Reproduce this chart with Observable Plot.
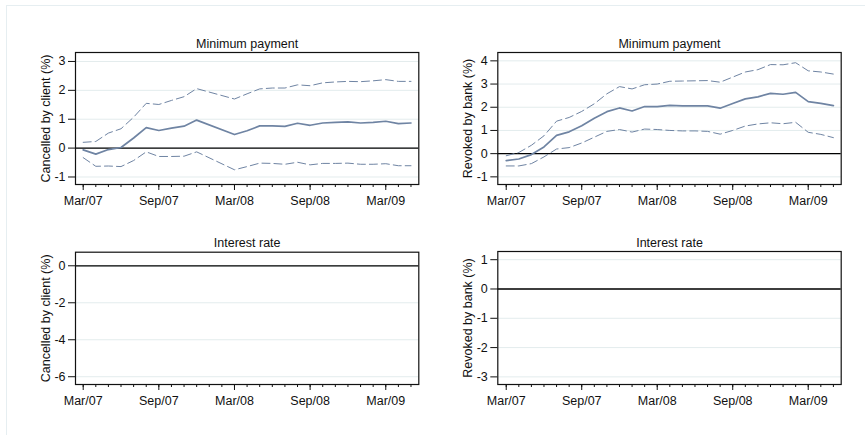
<!DOCTYPE html>
<html>
<head>
<meta charset="utf-8">
<script src="https://cdn.jsdelivr.net/npm/d3@7"></script>
<script src="https://cdn.jsdelivr.net/npm/@observablehq/plot@0.6"></script>
<style>
  html, body { margin: 0; padding: 0; background: #fff; }
  #wrap { position: relative; width: 865px; height: 435px; overflow: hidden; background: #fff; }
  #outline { position: absolute; left: 6px; top: 5px; width: 900px; height: 500px; border-left: 1px solid #e6eef1; border-top: 1px solid #e6eef1; }
  .panel { position: absolute; }
</style>
</head>
<body>
<div id="wrap"><div id="outline"></div></div>
<script>
// Month labels (monthly, Mar/07 .. May/09)
const months = ["Mar/07","Apr/07","May/07","Jun/07","Jul/07","Aug/07","Sep/07","Oct/07","Nov/07","Dec/07",
  "Jan/08","Feb/08","Mar/08","Apr/08","May/08","Jun/08","Jul/08","Aug/08","Sep/08","Oct/08","Nov/08","Dec/08",
  "Jan/09","Feb/09","Mar/09","Apr/09","May/09"];
const xTickLabels = ["Mar/07","Sep/07","Mar/08","Sep/08","Mar/09"];

// Top-left: Minimum payment, cancelled by client (%)
const clientMinPoint = [-0.06,-0.21,-0.05,0.02,0.35,0.71,0.61,0.69,0.76,0.97,null,null,0.47,0.60,0.77,0.77,0.75,0.86,0.79,0.87,0.89,0.91,0.87,0.89,0.93,0.85,0.87];
const clientMinUpper = [0.20,0.23,0.52,0.67,1.07,1.55,1.51,1.65,1.78,2.06,null,null,1.70,1.88,2.05,2.08,2.08,2.19,2.16,2.26,2.29,2.31,2.30,2.33,2.37,2.31,2.31];
const clientMinLower = [-0.33,-0.63,-0.62,-0.64,-0.43,-0.13,-0.29,-0.29,-0.28,-0.13,null,null,-0.75,-0.64,-0.52,-0.53,-0.56,-0.49,-0.58,-0.53,-0.53,-0.52,-0.56,-0.56,-0.54,-0.61,-0.61];

// Top-right: Minimum payment, revoked by bank (%)
const bankMinPoint = [-0.30,-0.23,-0.04,0.29,0.79,0.94,1.20,1.53,1.81,1.97,1.84,2.03,2.03,2.08,2.06,2.06,2.06,1.96,2.16,2.36,2.45,2.60,2.56,2.64,2.24,2.17,2.07];
const bankMinUpper = [-0.09,0.05,0.36,0.77,1.40,1.56,1.82,2.15,2.58,2.89,2.79,2.97,3.00,3.12,3.13,3.14,3.15,3.08,3.30,3.52,3.62,3.84,3.83,3.92,3.57,3.52,3.43];
const bankMinLower = [-0.53,-0.53,-0.43,-0.14,0.20,0.26,0.46,0.71,0.96,1.04,0.93,1.06,1.04,1.00,0.98,0.98,0.96,0.84,1.00,1.19,1.28,1.33,1.29,1.35,0.92,0.83,0.69];

// Y tick values
const yTicksClientMin = [-1,0,1,2,3];
const yTicksBankMin = [-1,0,1,2,3,4];
const yTicksClientRate = [-6,-4,-2,0];
const yTicksBankRate = [-3,-2,-1,0,1];

const LINE = "#6f84a3";
const GRID = "#e3eced";
const FS = 12.5;

function rows(values) {
  return values.map((v, i) => ({m: i, v})).filter(d => d.v != null);
}

function panel(opts) {
  const div = document.createElement("div");
  div.className = "panel";
  div.style.left = opts.left + "px";
  div.style.top = opts.top + "px";
  const majors = xTickLabels.map(l => months.indexOf(l));
  const minors = months.map((_, i) => i);
  const marks = [
    Plot.gridY(opts.yTicks, {stroke: GRID, strokeOpacity: 1, strokeWidth: 1}),
    Plot.ruleY([0], {stroke: "#000", strokeWidth: 1.3}),
  ];
  if (opts.series) {
    const [pt, up, lo] = opts.series;
    marks.push(Plot.lineY(rows(up), {x: "m", y: "v", stroke: LINE, strokeWidth: 1, strokeDasharray: "8,4"}));
    marks.push(Plot.lineY(rows(lo), {x: "m", y: "v", stroke: LINE, strokeWidth: 1, strokeDasharray: "8,4"}));
    marks.push(Plot.lineY(rows(pt), {x: "m", y: "v", stroke: LINE, strokeWidth: 1.7}));
  }
  marks.push(
    Plot.frame({stroke: "#111", strokeWidth: 1.2}),
    Plot.axisY(opts.yTicks, {tickSize: 7, tickPadding: 3, tickFormat: d => String(d), fontSize: FS, label: null}),
    Plot.axisX(minors, {tickSize: 3, tickFormat: () => "", label: null}),
    Plot.axisX(majors, {tickSize: 6, tickPadding: 6, tickFormat: i => months[i], fontSize: FS, label: null}),
    Plot.text([opts.title], {frameAnchor: "top", lineAnchor: "bottom", textAnchor: "middle", dy: -5, fontSize: FS}),
    Plot.text([opts.ylabel], {frameAnchor: "left", rotate: -90, dx: -30, textAnchor: "middle", lineAnchor: "middle", fontSize: FS})
  );
  const chart = Plot.plot({
    width: opts.width,
    height: opts.height,
    marginLeft: opts.ml, marginRight: opts.mr, marginTop: opts.mt, marginBottom: opts.mb,
    style: {fontFamily: "'Liberation Sans', Arial, Helvetica, sans-serif", fontSize: FS + "px", color: "#111", background: "transparent"},
    x: {domain: opts.xDomain, axis: null},
    y: {domain: opts.yDomain, axis: null},
    marks
  });
  div.appendChild(chart);
  document.getElementById("wrap").appendChild(div);
}

panel({left: 0, top: 0, width: 432, height: 215, ml: 75, mr: 13.7, mt: 52, mb: 31,
  xDomain: [-0.61, 26.62], yDomain: [-1.26, 3.31], yTicks: yTicksClientMin,
  title: "Minimum payment", ylabel: "Cancelled by client (%)",
  series: [clientMinPoint, clientMinUpper, clientMinLower]});
panel({left: 432, top: 0, width: 433, height: 215, ml: 65.3, mr: 24.3, mt: 52, mb: 31,
  xDomain: [-0.67, 26.62], yDomain: [-1.33, 4.36], yTicks: yTicksBankMin,
  title: "Minimum payment", ylabel: "Revoked by bank (%)",
  series: [bankMinPoint, bankMinUpper, bankMinLower]});
panel({left: 0, top: 215, width: 432, height: 220, ml: 75, mr: 13.7, mt: 36.7, mb: 51,
  xDomain: [-0.61, 26.62], yDomain: [-6.42, 0.735], yTicks: yTicksClientRate,
  title: "Interest rate", ylabel: "Cancelled by client (%)"});
panel({left: 432, top: 215, width: 433, height: 220, ml: 65.3, mr: 24.3, mt: 36, mb: 51,
  xDomain: [-0.67, 26.62], yDomain: [-3.26, 1.28], yTicks: yTicksBankRate,
  title: "Interest rate", ylabel: "Revoked by bank (%)"});
</script>
</body>
</html>
